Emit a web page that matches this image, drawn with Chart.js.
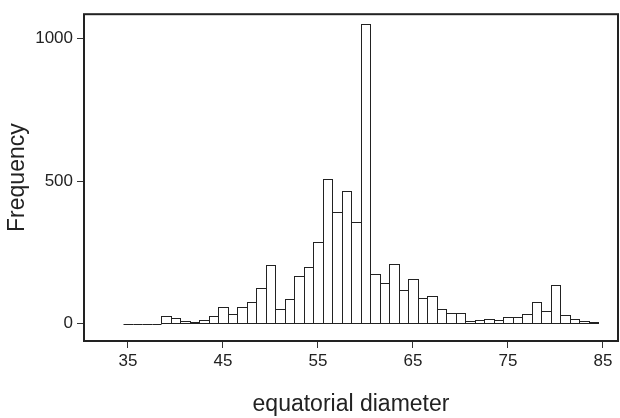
<!DOCTYPE html>
<html>
<head>
<meta charset="utf-8">
<script src="https://cdn.jsdelivr.net/npm/chart.js@4.4.1/dist/chart.umd.min.js"></script>
<style>
  html, body { margin: 0; padding: 0; background: #fff; }
  #wrap { width: 620px; height: 418px; }
</style>
</head>
<body>
<div id="wrap"><canvas id="hist" width="620" height="418"></canvas></div>
<script>
// bin centres (width 1) and their counts
const binCenters = [35, 36, 37, 38, 39, 40, 41, 42, 43, 44,
  45, 46, 47, 48, 49, 50, 51, 52, 53, 54,
  55, 56, 57, 58, 59, 60, 61, 62, 63, 64,
  65, 66, 67, 68, 69, 70, 71, 72, 73, 74,
  75, 76, 77, 78, 79, 80, 81, 82, 83, 84]
const counts = [0, 0, 0, 0, 25, 20, 8, 7, 14, 28,
  60, 35, 60, 77, 124, 205, 50, 88, 167, 200,
  288, 509, 393, 465, 356, 1050, 174, 144, 208, 118,
  158, 91, 98, 50, 36, 39, 8, 12, 16, 14,
  22, 22, 34, 77, 46, 134, 32, 17, 8, 6]
const xTicks = [35, 45, 55, 65, 75, 85]
const yTicks = [0, 500, 1000]

Chart.defaults.font.family = "'Liberation Sans', Arial, sans-serif"
Chart.defaults.color = '#222'

// outline each bar once (shared edges stay 1px) and draw the plot box
const outlineBars = {
  id: 'outlineBars',
  afterDatasetsDraw (chart) {
    const ctx = chart.ctx
    const meta = chart.getDatasetMeta(0)
    ctx.save()
    ctx.strokeStyle = '#222'
    ctx.lineWidth = 1
    meta.data.forEach(bar => {
      const { x, y, base, width } = bar.getProps(['x', 'y', 'base', 'width'], true)
      const l = Math.round(x - width / 2) + 0.5
      const r = Math.round(x + width / 2) + 0.5
      const t = Math.round(y) + 0.5
      const b = Math.round(base) + 0.5
      if (b - t < 1) {
        ctx.beginPath()
        ctx.moveTo(l, b)
        ctx.lineTo(r, b)
        ctx.stroke()
      } else {
        ctx.strokeRect(l, t, r - l, b - t)
      }
    })
    const a = chart.chartArea
    ctx.lineWidth = 2
    ctx.strokeRect(a.left, a.top, a.right - a.left, a.bottom - a.top)
    ctx.restore()
  }
}

const axisGrid = {
  display: true,
  drawOnChartArea: false,
  drawTicks: true,
  tickLength: 7,
  color: '#333',
  lineWidth: 1,
  offset: false
}

const chart = new Chart(document.getElementById('hist'), {
  type: 'bar',
  data: {
    datasets: [{
      data: binCenters.map((x, i) => ({ x: x, y: counts[i] })),
      backgroundColor: '#fff',
      borderWidth: 0,
      categoryPercentage: 1,
      barPercentage: 1,
      grouped: false
    }]
  },
  options: {
    responsive: false,
    animation: false,
    layout: { padding: { left: 0, top: 14, right: 2, bottom: 0 } },
    plugins: {
      legend: { display: false },
      tooltip: { enabled: false }
    },
    scales: {
      x: {
        type: 'linear',
        offset: false,
        min: 30.37,
        max: 86.58,
        afterBuildTicks: (s) => { s.ticks = xTicks.map(v => ({ value: v })) },
        afterFit: (s) => { s.height = 77 },
        grid: axisGrid,
        border: { display: false },
        ticks: {
          font: { size: 17 },
          padding: 3,
          maxRotation: 0,
          autoSkip: false,
          color: '#222',
          callback: (v) => String(v)
        },
        title: {
          display: true,
          text: 'equatorial diameter',
          font: { size: 23 },
          color: '#222',
          padding: { top: 0, bottom: 0 }
        }
      },
      y: {
        min: -61,
        max: 1086,
        afterBuildTicks: (s) => { s.ticks = yTicks.map(v => ({ value: v })) },
        afterFit: (s) => { s.width = 84 },
        grid: axisGrid,
        border: { display: false },
        ticks: {
          font: { size: 17 },
          padding: 4,
          color: '#222',
          callback: (v) => String(v)
        },
        title: {
          display: true,
          text: 'Frequency',
          font: { size: 23 },
          color: '#222',
          padding: { top: 4, bottom: 0 }
        }
      }
    }
  },
  plugins: [outlineBars]
})
</script>
</body>
</html>
